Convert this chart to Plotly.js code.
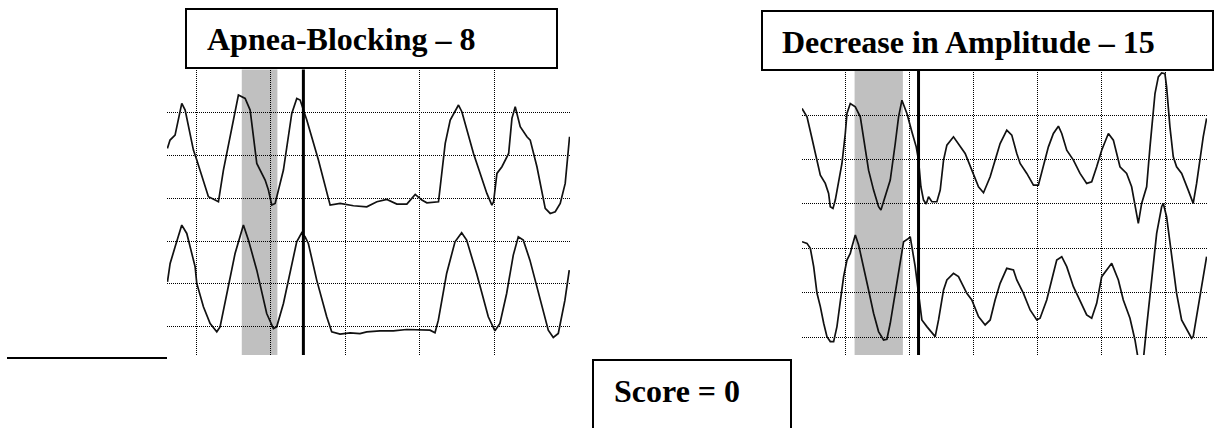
<!DOCTYPE html>
<html>
<head>
<meta charset="utf-8">
<script src="https://cdn.plot.ly/plotly-3.0.1.min.js"></script>
<style>html,body{margin:0;padding:0;background:#fff;}#chart{width:1223px;height:428px;}</style>
</head>
<body>
<div id="chart"></div>
<script>
// Panel titles and score
const panelTitles = ["Apnea-Blocking \u2013 8", "Decrease in Amplitude \u2013 15"];
const scoreLabel = "Score = 0";

// Left panel (grid units): upper and lower respiratory traces
const leftTopX = [-0.385,-0.349,-0.282,-0.192,-0.147,-0.036,0.009,0.165,0.255,0.299,0.366,0.567,0.657,0.724,0.813,0.925,0.969,1.014,1.059,1.170,1.282,1.349,1.394,1.439,1.483,1.639,1.796,1.930,2.109,2.287,2.422,2.556,2.690,2.824,2.936,3.025,3.092,3.248,3.338,3.405,3.516,3.561,3.717,3.896,3.963,3.986,4.031,4.098,4.188,4.232,4.276,4.343,4.433,4.477,4.567,4.678,4.745,4.812,4.879,4.946,5.004];
const leftTopY = [4.168,4.363,4.480,5.221,5.065,4.129,3.896,3.038,2.960,2.921,3.662,5.415,5.337,5.065,3.818,3.428,3.194,2.843,2.882,3.662,4.987,5.337,5.299,5.065,4.831,3.896,2.843,2.882,2.828,2.804,2.921,2.976,2.867,2.867,3.093,2.960,2.898,2.921,4.285,4.831,5.182,5.026,4.051,3.116,2.843,2.921,3.584,3.740,4.051,4.870,5.143,4.675,4.441,4.363,3.740,2.765,2.648,2.687,2.882,3.350,4.441];
const leftBottomX = [-0.384,-0.348,-0.281,-0.192,-0.125,-0.058,-0.013,0.009,0.098,0.188,0.277,0.321,0.411,0.522,0.634,0.701,0.813,0.946,1.036,1.080,1.170,1.281,1.348,1.415,1.460,1.504,1.616,1.750,1.817,1.929,2.063,2.196,2.286,2.464,2.643,2.821,3.000,3.134,3.201,3.246,3.357,3.469,3.558,3.625,3.759,3.915,4.004,4.071,4.161,4.250,4.317,4.384,4.473,4.607,4.719,4.786,4.853,4.942,5.000];
const leftBottomY = [1.051,1.479,1.869,2.376,2.181,1.713,1.401,1.012,0.466,0.076,-0.118,-0.002,0.778,1.713,2.376,2.025,1.323,0.310,-0.041,-0.002,0.544,1.401,1.986,2.196,2.103,1.947,1.090,0.232,-0.118,-0.173,-0.142,-0.158,-0.118,-0.095,-0.095,-0.064,-0.064,-0.080,-0.142,0.154,1.246,1.986,2.196,2.025,1.246,0.232,-0.095,0.076,0.778,1.674,2.103,2.025,1.557,0.700,-0.080,-0.251,-0.158,0.622,1.323];

// Right panel (grid units)
const rightTopX = [-0.675,-0.597,-0.519,-0.441,-0.389,-0.312,-0.260,-0.234,-0.192,-0.156,-0.104,-0.052,0.000,0.026,0.078,0.156,0.234,0.286,0.363,0.441,0.519,0.556,0.623,0.701,0.779,0.831,0.883,0.961,1.038,1.106,1.142,1.179,1.220,1.262,1.298,1.350,1.428,1.480,1.532,1.584,1.687,1.765,1.869,1.973,2.077,2.155,2.259,2.336,2.414,2.518,2.596,2.674,2.726,2.830,2.934,3.011,3.089,3.167,3.245,3.323,3.375,3.453,3.557,3.660,3.764,3.842,3.920,3.998,4.102,4.180,4.283,4.387,4.465,4.517,4.569,4.621,4.699,4.751,4.829,4.881,4.933,4.984,5.010,5.062,5.114,5.166,5.245,5.347,5.425,5.478,5.530,5.581,5.634];
const rightTopY = [5.149,4.962,4.475,3.987,3.650,3.463,3.238,2.938,2.900,3.088,3.463,3.912,4.587,5.037,5.262,5.187,4.962,4.512,3.762,3.313,2.938,2.863,3.163,3.538,4.362,4.962,5.337,5.037,4.625,4.287,3.987,3.388,3.088,2.998,3.163,3.050,3.050,3.313,3.987,4.325,4.512,4.362,4.137,3.762,3.388,3.253,3.613,3.987,4.362,4.662,4.550,4.137,3.912,3.688,3.425,3.425,3.838,4.287,4.587,4.752,4.587,4.212,3.987,3.688,3.463,3.500,3.838,4.212,4.587,4.437,3.838,3.688,3.388,2.938,2.563,3.013,3.388,4.287,5.487,5.861,5.951,5.936,5.636,4.737,4.062,3.838,3.688,3.312,3.013,3.463,3.987,4.511,4.925];
const rightBottomX = [-0.675,-0.597,-0.545,-0.493,-0.441,-0.389,-0.337,-0.286,-0.234,-0.182,-0.130,-0.078,-0.026,0.026,0.078,0.104,0.156,0.208,0.286,0.363,0.441,0.519,0.597,0.649,0.701,0.779,0.857,0.909,0.987,1.012,1.038,1.090,1.142,1.194,1.272,1.350,1.402,1.454,1.532,1.584,1.687,1.765,1.895,1.973,2.077,2.181,2.259,2.336,2.414,2.518,2.622,2.674,2.778,2.882,2.986,3.037,3.141,3.245,3.297,3.375,3.453,3.557,3.660,3.764,3.842,3.920,3.998,4.076,4.154,4.258,4.335,4.439,4.517,4.569,4.647,4.699,4.777,4.855,4.933,4.958,5.010,5.062,5.166,5.244,5.400,5.425,5.478,5.530,5.634];
const rightBottomY = [2.151,2.113,2.001,1.588,0.989,0.689,0.314,0.014,-0.098,-0.098,0.239,0.839,1.364,1.738,1.888,2.038,2.300,2.075,1.588,1.064,0.539,0.127,-0.061,-0.046,0.314,0.989,1.738,2.151,2.226,2.263,2.038,1.588,0.989,0.389,0.239,0.089,0.014,0.389,1.064,1.289,1.439,1.364,0.989,0.839,0.464,0.277,0.389,0.839,1.214,1.551,1.514,1.289,0.989,0.614,0.389,0.427,0.839,1.439,1.738,1.813,1.588,1.139,0.839,0.502,0.427,0.764,1.364,1.514,1.664,1.289,0.839,0.427,-0.061,-0.511,-0.511,0.239,1.364,2.338,2.938,3.013,2.713,2.113,0.989,0.389,-0.023,0.013,0.462,0.989,1.812];

// Highlighted window and event marker positions (grid units)
const leftBand = [0.612, 1.089];
const leftMarker = 1.4375;
const rightBand = [0.145, 0.898];
const rightMarker = 1.142;

const W = 1223, H = 428;
const px = v => v / W;
const py = v => 1 - v / H;

const lineStyle = {color: '#111', width: 1.7};
const traces = [
  {x: leftTopX, y: leftTopY, xaxis: 'x', yaxis: 'y', mode: 'lines', line: lineStyle, hoverinfo: 'skip'},
  {x: leftBottomX, y: leftBottomY, xaxis: 'x', yaxis: 'y', mode: 'lines', line: lineStyle, hoverinfo: 'skip'},
  {x: rightTopX, y: rightTopY, xaxis: 'x2', yaxis: 'y2', mode: 'lines', line: lineStyle, hoverinfo: 'skip'},
  {x: rightBottomX, y: rightBottomY, xaxis: 'x2', yaxis: 'y2', mode: 'lines', line: lineStyle, hoverinfo: 'skip'}
];

const gridAxis = {
  showgrid: true, gridcolor: '#000', griddash: '1px,1px', gridwidth: 1,
  zeroline: false, showline: false, showticklabels: false, ticks: '',
  dtick: 1, tick0: 0, fixedrange: true
};

const titleFont = {family: 'Liberation Serif, Times New Roman, serif', size: 32, color: '#000', weight: 700};

const layout = {
  width: W, height: H,
  margin: {l: 0, r: 0, t: 0, b: 0},
  paper_bgcolor: '#fff', plot_bgcolor: 'rgba(0,0,0,0)',
  showlegend: false,
  xaxis: Object.assign({}, gridAxis, {domain: [px(167), px(570)], range: [-0.39, 5.01], anchor: 'y'}),
  yaxis: Object.assign({}, gridAxis, {domain: [py(355), py(69.6)], range: [-0.66, 6.01], anchor: 'x'}),
  xaxis2: Object.assign({}, gridAxis, {domain: [px(802), px(1207)], range: [-0.675, 5.64], anchor: 'y2'}),
  yaxis2: Object.assign({}, gridAxis, {domain: [py(355), py(70.3)], range: [-0.4, 6.01], anchor: 'x2'}),
  shapes: [
    {type: 'rect', layer: 'below', xref: 'x', yref: 'y domain', x0: leftBand[0], x1: leftBand[1], y0: 0, y1: 1, fillcolor: '#c0c0c0', line: {width: 0}},
    {type: 'rect', layer: 'below', xref: 'x2', yref: 'y2 domain', x0: rightBand[0], x1: rightBand[1], y0: 0, y1: 1, fillcolor: '#c0c0c0', line: {width: 0}},
    {type: 'line', layer: 'above', xref: 'x', yref: 'y domain', x0: leftMarker, x1: leftMarker, y0: 0, y1: 1, line: {color: '#000', width: 3}},
    {type: 'line', layer: 'above', xref: 'x2', yref: 'y2 domain', x0: rightMarker, x1: rightMarker, y0: 0, y1: 1, line: {color: '#000', width: 3}},
    {type: 'rect', layer: 'above', xref: 'paper', yref: 'paper', x0: px(186), x1: px(557), y0: py(68), y1: py(9), fillcolor: '#fff', line: {color: '#000', width: 2}},
    {type: 'rect', layer: 'above', xref: 'paper', yref: 'paper', x0: px(762), x1: px(1213), y0: py(70), y1: py(11), fillcolor: '#fff', line: {color: '#000', width: 2}},
    {type: 'rect', layer: 'above', xref: 'paper', yref: 'paper', x0: px(593), x1: px(791), y0: py(445), y1: py(360), fillcolor: '#fff', line: {color: '#000', width: 2}},
    {type: 'line', layer: 'above', xref: 'paper', yref: 'paper', x0: px(7), x1: px(167), y0: py(358), y1: py(358), line: {color: '#000', width: 2}}
  ],
  annotations: [
    {xref: 'paper', yref: 'paper', x: px(205), y: py(39), xanchor: 'left', yanchor: 'middle', showarrow: false, text: panelTitles[0], font: titleFont},
    {xref: 'paper', yref: 'paper', x: px(780), y: py(42), xanchor: 'left', yanchor: 'middle', showarrow: false, text: panelTitles[1], font: titleFont},
    {xref: 'paper', yref: 'paper', x: px(612), y: py(391), xanchor: 'left', yanchor: 'middle', showarrow: false, text: scoreLabel, font: titleFont}
  ]
};

Plotly.newPlot('chart', traces, layout, {displayModeBar: false, staticPlot: true});
</script>
</body>
</html>
